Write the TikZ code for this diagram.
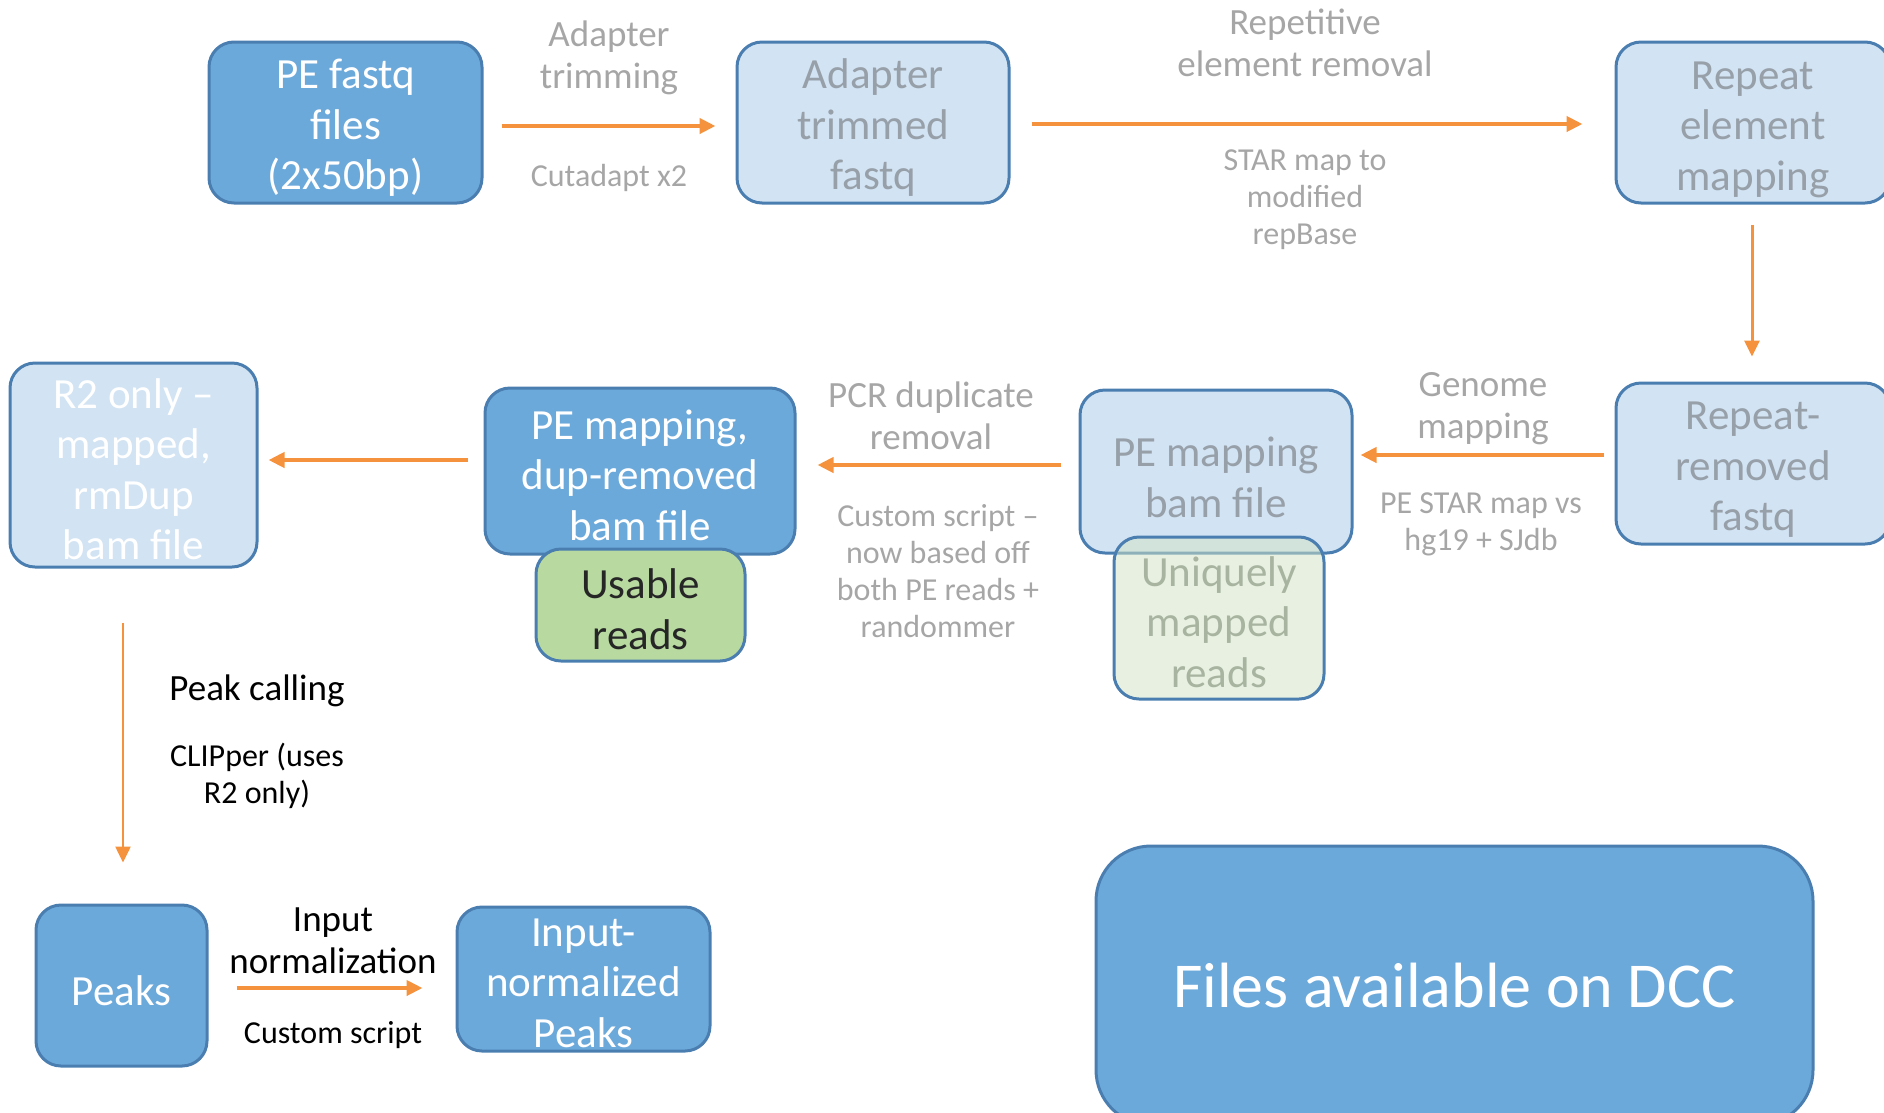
\documentclass[tikz,border=0pt]{standalone}
\usepackage{fontspec}
\setmainfont{Carlito}
\usetikzlibrary{arrows.meta,calc}
\definecolor{darkfill}{HTML}{6CA9DB}
\definecolor{lightfill}{HTML}{D2E3F3}
\definecolor{bordercol}{HTML}{4A7EB0}
\definecolor{orangecol}{HTML}{F4923E}
\definecolor{labelgrey}{HTML}{A6A6A6}
\definecolor{boxgrey}{HTML}{97A0A9}
\definecolor{greenfill}{HTML}{B8D9A0}
\definecolor{umfill}{HTML}{D1E3C3}
\definecolor{umtext}{HTML}{A8B4A0}
\tikzset{
  x=1pt, y=-1pt,
  boxbase/.style={draw=bordercol, line width=3pt, rounded corners=25pt, inner sep=0pt},
  darkbox/.style={boxbase, fill=darkfill},
  lightbox/.style={boxbase, fill=lightfill},
  boxtxt/.style={align=center, inner sep=0pt, font=\fontsize{43}{50.5}\selectfont},
  whitetxt/.style={boxtxt, text=white},
  greytxt/.style={boxtxt, text=boxgrey},
  lbl/.style={align=center, text=labelgrey, font=\fontsize{37}{42}\selectfont},
  smalllbl/.style={align=center, text=labelgrey, font=\fontsize{32}{37}\selectfont},
  arr/.style={draw=orangecol, line width=4pt, -{Triangle[length=16pt,width=15pt]}},
}
\begin{document}
\begin{tikzpicture}
\useasboundingbox (0,0) rectangle (1884,1112);
\clip (0,0) rectangle (1884,1112);

% boxes
\node[darkbox, minimum width=273pt, minimum height=161pt] (pe) at (345.5,122.5) {};
\node[whitetxt] (pe-t) at ([yshift=-5.5pt]pe.center) {PE fastq\\files\\(2x50bp)};
\node[lightbox, minimum width=272pt, minimum height=161pt] (at) at (873,122.5) {};
\node[greytxt] (at-t) at ([yshift=-5.5pt]at.center) {Adapter\\trimmed\\fastq};
\node[lightbox, minimum width=274pt, minimum height=161pt] (rem) at (1753,122.5) {};
\node[greytxt] (rem-t) at ([yshift=-7pt]rem.center) {Repeat\\element\\mapping};
\node[lightbox, minimum width=274pt, minimum height=161pt] (rr) at (1753,463.5) {};
\node[greytxt] (rr-t) at ([yshift=-6.5pt]rr.center) {Repeat-\\removed\\fastq};
\node[lightbox, minimum width=272pt, minimum height=163pt] (pem) at (1216,471.5) {};
\node[greytxt] (pem-t) at ([yshift=-6pt]pem.center) {PE mapping\\bam file};
\node[boxbase, fill=umfill, fill opacity=0.5, minimum width=210pt, minimum height=162pt] (um) at (1219,618) {};
\node[boxtxt, text=umtext] (um-t) at ([yshift=-4pt]um.center) {Uniquely\\mapped\\reads};
\node[darkbox, minimum width=310pt, minimum height=166pt] (dup) at (640,471) {};
\node[whitetxt] (dup-t) at ([yshift=-4pt]dup.center) {PE mapping,\\dup-removed\\bam file};
\node[boxbase, fill=greenfill, minimum width=209pt, minimum height=112pt] (ur) at (640.5,605) {};
\node[boxtxt, text=black!85] (ur-t) at ([yshift=-4pt]ur.center) {Usable\\reads};
\node[lightbox, minimum width=247pt, minimum height=204pt] (r2) at (133.5,465) {};
\node[whitetxt] (r2-t) at ([yshift=-4pt]r2.center) {R2 only --\\mapped,\\rmDup\\bam file};
\node[darkbox, minimum width=171pt, minimum height=161pt] (pk) at (121.5,985.5) {};
\node[whitetxt] (pk-t) at ([yshift=-5pt]pk.center) {Peaks};
\node[darkbox, minimum width=253pt, minimum height=144pt] (inp) at (583.5,979) {};
\node[whitetxt] (inp-t) at ([yshift=-4pt]inp.center) {Input-\\normalized\\Peaks};
\node[darkbox, rounded corners=55pt, minimum width=717pt, minimum height=279pt] (dcc) at (1454.5,985.5) {};
\node[whitetxt, font=\fontsize{64}{76}\selectfont] (dcc-t) at (dcc.center) {Files available on DCC};

% labels
\node[lbl] (l1) at (609,58) {Adapter\\trimming};
\node[smalllbl] (l2) at (609,177.5) {Cutadapt x2};
\node[lbl] (l3) at (1305,43) {Repetitive\\element removal};
\node[smalllbl] (l4) at (1305,200) {STAR map to\\modified\\repBase};
\node[lbl] (l5) at (1483,409) {Genome\\mapping};
\node[smalllbl] (l6) at (1481,524.5) {PE STAR map vs\\hg19 + SJdb};
\node[lbl] (l7) at (931,416) {PCR duplicate\\removal};
\node[smalllbl] (l8) at (938,571) {Custom script --\\now based off\\both PE reads +\\randommer};
\node[lbl, text=black] (l9) at (257,690.5) {Peak calling};
\node[smalllbl, text=black] (l10) at (257,776) {CLIPper (uses\\R2 only)};
\node[lbl, text=black] (l11) at (333,941) {Input\\normalization};
\node[smalllbl, text=black] (l12) at (333,1035.5) {Custom script};

% arrows
\draw[arr] ($(pe.east)+(18,3.5)$) -- ($(at.west)+(-20,3.5)$);
\draw[arr] ($(at.east)+(21,1.5)$) -- ($(rem.west)+(-32,1.5)$);
\draw[arr, line width=3pt] ($(rem.south)+(-1,20)$) -- ($(rr.north)+(-1,-25)$);
\draw[arr] ($(rr.west)+(-11,-8.5)$) -- ($(pem.east)+(7,-16.5)$);
\draw[arr] ($(pem.west)+(-18,-6.5)$) -- ($(dup.east)+(21,-6)$);
\draw[arr] ($(dup.west)+(-16,-11)$) -- ($(r2.east)+(10,-5)$);
\draw[arr, line width=2.5pt] ($(r2.south)+(-10.5,54)$) -- ($(pk.north)+(1.5,-41)$);
\draw[arr] ($(pk.east)+(28,2.5)$) -- ($(inp.west)+(-33,9)$);
\end{tikzpicture}
\end{document}
